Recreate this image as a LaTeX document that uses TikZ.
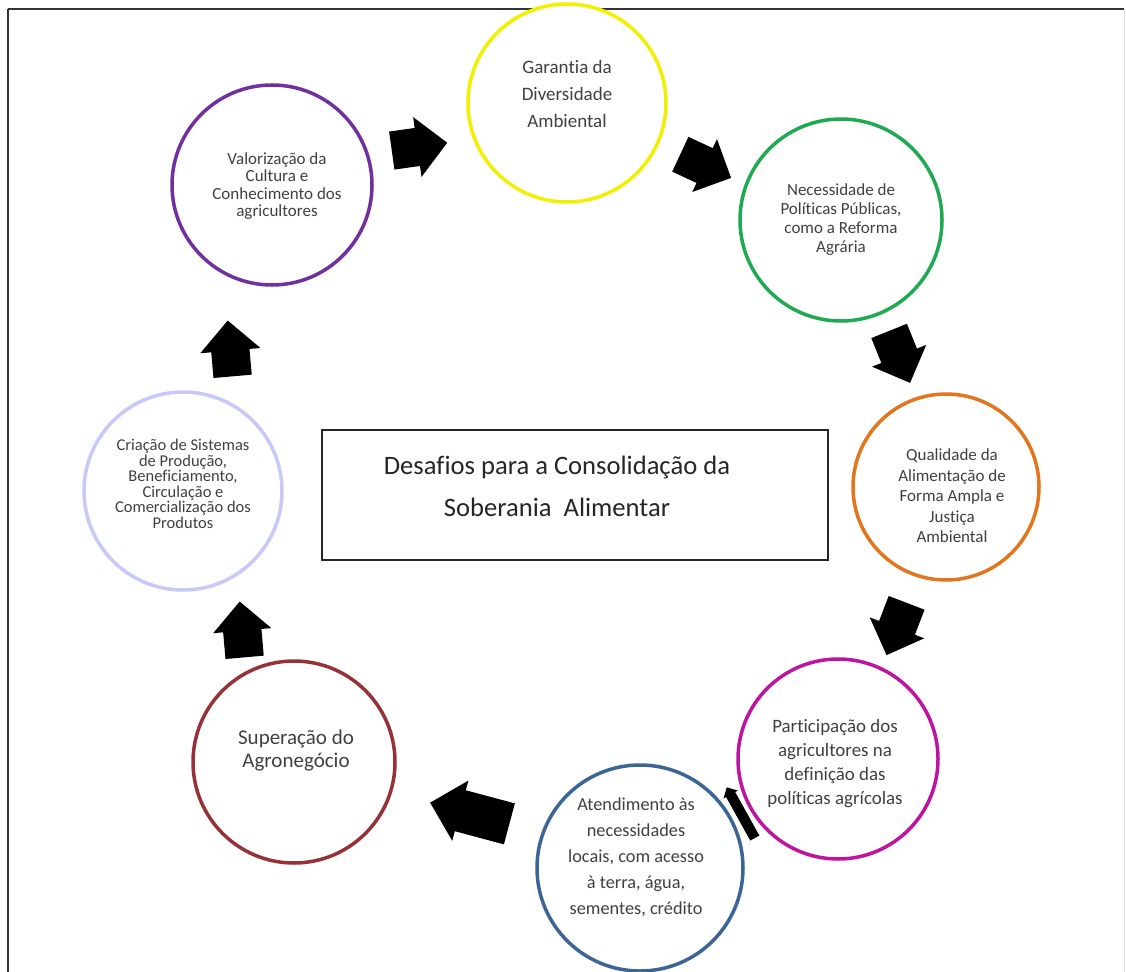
\documentclass[tikz,border=0pt]{standalone}
\usepackage{fontspec}
\setmainfont{Carlito}[Ligatures=NoCommon]
\usetikzlibrary{shapes.arrows}
\definecolor{txtgray}{RGB}{64,64,64}
\definecolor{cyel}{RGB}{240,240,0}
\definecolor{cgrn}{RGB}{30,170,80}
\definecolor{corg}{RGB}{226,118,30}
\definecolor{cmag}{RGB}{190,20,160}
\definecolor{cblu}{RGB}{60,100,150}
\definecolor{cbrn}{RGB}{150,50,55}
\definecolor{clav}{RGB}{200,200,250}
\definecolor{cpur}{RGB}{112,48,160}
\newcommand{\fs}[2]{\fontsize{#1}{#2}\selectfont}
\begin{document}
\begin{tikzpicture}[x=1pt,y=1pt,
  ring/.style={circle, draw, line width=3.5pt, fill=white, inner sep=0pt},
  lbl/.style={align=center, text=txtgray, inner sep=0pt},
  blk/.style={single arrow, fill=black, draw=none, inner sep=0pt,
    minimum width=0pt, text height=19pt, text depth=19pt,
    single arrow head extend=10pt, minimum height=56pt}]
\useasboundingbox (0,0) rectangle (1126,-971);
\fill[white] (0,0) rectangle (1126,-971);
\draw[line width=2pt, black!80] (8,-9) -- (1124,-9);
\draw[line width=2pt, black!80] (8,-9) -- (8,-975);
\draw[line width=1pt, black!12] (1124,-9) -- (1124,-975);
% block arrows
\node[blk, rotate=8, single arrow head extend=11pt]  (a1) at (410,-148) {};
\node[blk, rotate=-25]  (a2) at (697,-162) {};
\node[blk, rotate=-68]  (a3) at (896,-348) {};
\node[blk, rotate=-111] (a4) at (900,-620) {};
\node[blk, rotate=119, minimum height=58pt, text height=5pt, text depth=5pt, single arrow head extend=3pt] (a5) at (742,-815) {};
\node[blk, rotate=165, minimum height=82pt, text height=21pt, text depth=21pt] (a6) at (480,-816) {};
\node[blk, rotate=95]   (a7) at (243,-639) {};
\node[blk, rotate=95, single arrow head extend=11pt]   (a8) at (231,-358) {};
% circles
\node[ring, draw=cyel, minimum size=198pt] (yel) at (567,-103) {};
\node[ring, draw=cgrn, minimum size=202pt] (grn) at (841,-220) {};
\node[ring, draw=corg, minimum size=186pt] (org) at (946,-487) {};
\node[ring, draw=cmag, minimum size=200pt] (mag) at (838,-759) {};
\node[ring, draw=cblu, minimum size=206pt] (blu) at (640,-868) {};
\node[ring, draw=cbrn, minimum size=202pt] (brn) at (294,-762) {};
\node[ring, draw=clav, minimum size=198pt] (lav) at (183,-491) {};
\node[ring, draw=cpur, minimum size=200pt] (pur) at (272,-185) {};
% texts
\node[lbl, font=\fs{19}{27}] (yelT) at (567,-94) {Garantia da\\Diversidade\\Ambiental};
\node[lbl, font=\fs{17}{19}] (grnT) at (841,-220) {Necessidade de\\Políticas Públicas,\\como a Reforma\\Agrária};
\node[lbl, font=\fs{17}{20.5}] (orgT) at (952,-496) {Qualidade da\\Alimentação de\\Forma Ampla e\\Justiça\\Ambiental};
\node[lbl, font=\fs{18.9}{24}] (magT) at (835,-764) {Participação dos\\agricultores na\\definição das\\políticas agrícolas};
\node[lbl, font=\fs{18.3}{26}] (bluT) at (636,-857) {Atendimento às\\necessidades\\locais, com acesso\\à terra, água,\\sementes, crédito};
\node[lbl, font=\fs{21}{23}] (brnT) at (296,-751) {Superação do\\Agronegócio};
\node[lbl, font=\fs{16.5}{15.5}] (lavT) at (183,-484) {Criação de Sistemas\\de Produção,\\Beneficiamento,\\Circulação e\\Comercialização dos\\Produtos};
\node[lbl, font=\fs{17}{17.5}] (purT) at (277,-186) {Valorização da\\Cultura e\\Conhecimento dos\\agricultores};
% title box
\node[draw=black!85, line width=1.5pt, minimum width=506pt, minimum height=130pt, inner sep=0pt] (box) at (575,-495) {};
\node[lbl, font=\fs{26.6}{42}, text=black!85] (title) at (557,-486) {Desafios para a Consolidação da\\Soberania\ \ Alimentar};
\end{tikzpicture}
\end{document}
